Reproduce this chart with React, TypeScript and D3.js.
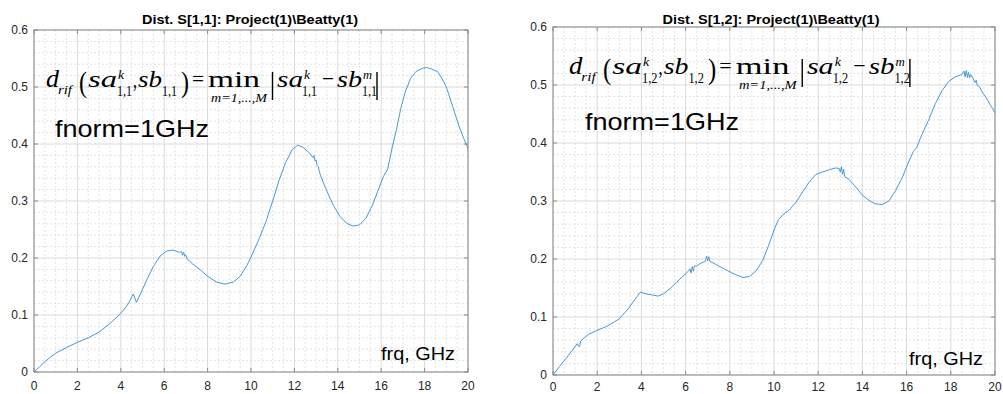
import React from 'react';
import * as d3 from 'd3';

// ---------- data ----------
const freqS11 = [0, 0.25, 0.5, 0.75, 1.0, 1.5, 2.0, 2.5, 3.0, 3.5, 4.0, 4.3, 4.58, 4.72, 5.0, 5.2, 5.5, 5.8, 6.1, 6.4, 6.7, 6.8, 6.85, 6.9, 6.95, 7.0, 7.05, 7.3, 7.7, 8.0, 8.4, 8.8, 9.2, 9.5, 9.8, 10.1, 10.4, 10.7, 11.0, 11.3, 11.6, 11.9, 12.15, 12.4, 12.7, 12.85, 12.9, 12.95, 13.0, 13.05, 13.1, 13.15, 13.2, 13.5, 13.8, 14.1, 14.4, 14.7, 15.0, 15.3, 15.6, 15.9, 16.1, 16.3, 16.5, 16.7, 16.9, 17.1, 17.35, 17.6, 17.9, 18.1, 18.3, 18.6, 18.8, 19.0, 19.3, 19.6, 19.8, 20.0];
const distS11 = [0, 0.009, 0.018, 0.026, 0.033, 0.043, 0.052, 0.06, 0.07, 0.085, 0.103, 0.117, 0.137, 0.122, 0.145, 0.162, 0.185, 0.203, 0.212, 0.214, 0.21, 0.211, 0.205, 0.21, 0.203, 0.205, 0.199, 0.19, 0.178, 0.168, 0.158, 0.154, 0.158, 0.168, 0.186, 0.21, 0.236, 0.265, 0.3, 0.337, 0.368, 0.39, 0.398, 0.394, 0.384, 0.376, 0.38, 0.37, 0.372, 0.362, 0.36, 0.352, 0.345, 0.317, 0.292, 0.273, 0.261, 0.256, 0.258, 0.27, 0.293, 0.323, 0.343, 0.356, 0.393, 0.425, 0.462, 0.49, 0.515, 0.527, 0.533, 0.534, 0.532, 0.527, 0.515, 0.5, 0.465, 0.43, 0.41, 0.392];

const freqS12 = [0, 0.3, 0.6, 0.9, 1.1, 1.15, 1.2, 1.25, 1.35, 1.6, 2.0, 2.5, 3.0, 3.4, 3.7, 3.95, 4.2, 4.5, 4.75, 5.0, 5.3, 5.6, 5.9, 6.1, 6.2, 6.25, 6.3, 6.35, 6.4, 6.5, 6.7, 6.9, 6.95, 7.0, 7.05, 7.1, 7.4, 7.8, 8.2, 8.6, 8.9, 9.2, 9.5, 9.8, 10.0, 10.2, 10.4, 10.7, 11.0, 11.3, 11.6, 11.9, 12.2, 12.5, 12.8, 12.95, 13.0, 13.05, 13.1, 13.15, 13.2, 13.4, 13.7, 14.0, 14.3, 14.6, 14.9, 15.2, 15.5, 15.8, 16.1, 16.3, 16.45, 16.7, 17.0, 17.3, 17.6, 17.9, 18.2, 18.5, 18.6, 18.65, 18.7, 18.75, 18.8, 18.85, 18.9, 19.0, 19.1, 19.15, 19.2, 19.3, 19.4, 19.6, 19.8, 20.0];
const distS12 = [0, 0.015, 0.029, 0.044, 0.054, 0.05, 0.049, 0.058, 0.062, 0.07, 0.077, 0.085, 0.097, 0.114, 0.13, 0.143, 0.14, 0.138, 0.136, 0.14, 0.149, 0.16, 0.171, 0.178, 0.183, 0.176, 0.187, 0.179, 0.188, 0.188, 0.193, 0.196, 0.205, 0.197, 0.204, 0.196, 0.19, 0.182, 0.174, 0.168, 0.17, 0.18, 0.198, 0.228, 0.25, 0.268, 0.276, 0.285, 0.298, 0.316, 0.333, 0.346, 0.35, 0.354, 0.357, 0.356, 0.35, 0.359, 0.346, 0.355, 0.342, 0.337, 0.324, 0.31, 0.301, 0.295, 0.294, 0.3, 0.318, 0.34, 0.368, 0.385, 0.392, 0.415, 0.44, 0.468, 0.49, 0.506, 0.514, 0.518, 0.524, 0.514, 0.525, 0.513, 0.522, 0.512, 0.518, 0.512, 0.504, 0.508, 0.499, 0.497, 0.489, 0.478, 0.465, 0.452];

const xTicks = [0, 2, 4, 6, 8, 10, 12, 14, 16, 18, 20];
const yTicks = [0, 0.1, 0.2, 0.3, 0.4, 0.5, 0.6];
const xTickLabels = xTicks.map(String);
const yTickLabels = yTicks.map(v => (v === 0 ? '0' : v.toFixed(1)));
const titles = ['Dist. S[1,1]: Project(1)\\Beatty(1)', 'Dist. S[1,2]: Project(1)\\Beatty(1)'];
const subscripts = ['1,1', '1,2'];
const noteText = 'fnorm=1GHz';
const axisText = 'frq, GHz';

const SANS = "'Liberation Sans', Arial, Helvetica, sans-serif";
const SERIF = "'Liberation Serif', 'Times New Roman', serif";

type FormulaProps = { x: number; y: number; sub: string; k: number };

function Formula({ x, y, sub, k }: FormulaProps) {
  const t = (dx: number, dy: number, txt: string, size: number, italic: boolean, w?: number) => (
    <text
      x={x + dx * k}
      y={y + dy}
      fontFamily={SERIF}
      fontSize={size}
      fontStyle={italic ? 'italic' : 'normal'}
      fill="#000"
      textLength={w ? w * k : undefined}
      lengthAdjust={w ? 'spacingAndGlyphs' : undefined}
    >
      {txt}
    </text>
  );
  const bar = (dx: number) => (
    <line x1={x + dx * k} x2={x + dx * k} y1={y - 15} y2={y + 13} stroke="#000" strokeWidth={1.4} />
  );
  return (
    <g>
      {t(-1, 0, 'd', 25, true, 13)}
      {t(11, 7, 'rif', 13, true, 14)}
      {t(32, 5, '(', 29, false, 8)}
      {t(41, 0, 'sa', 24, true, 29)}
      {t(71, -8, 'k', 13, true, 6)}
      {t(70, 9, sub, 14, false, 15)}
      {t(86, 0, ',', 24, false, 4)}
      {t(91, 0, 'sb', 24, true, 24)}
      {t(115, 9, sub, 14, false, 15)}
      {t(134, 5, ')', 29, false, 8)}
      {t(145, -1, '=', 22, false, 12)}
      {t(161, 0, 'min', 24, false, 52)}
      {t(164, 15, 'm=1,...,M', 12, true, 56)}
      {bar(225.5)}
      {t(230, 0, 'sa', 24, true, 26)}
      {t(257, -8, 'k', 13, true, 6)}
      {t(255, 9, sub, 14, false, 15)}
      {t(275, -1, '\u2212', 22, false, 12)}
      {t(290, 0, 'sb', 24, true, 25)}
      {t(316, -8, 'm', 13, true, 9)}
      {t(315, 9, sub, 14, false, 15)}
      {bar(330)}
    </g>
  );
}

type PanelProps = {
  x0: number; x1: number; y0: number; y1: number;
  freq: number[]; dist: number[];
  title: string; titleX: number; titleW: number;
  sub: string; fx: number; fy: number; fk: number;
  nx: number; ny: number; qx: number; qy: number;
};

function Panel(p: PanelProps) {
  const xs = d3.scaleLinear().domain([0, 20]).range([p.x0, p.x1]);
  const ys = d3.scaleLinear().domain([0, 0.6]).range([p.y0, p.y1]);
  const minorX = d3.range(0, 20.0001, 0.5).filter(v => Math.abs(v / 2 - Math.round(v / 2)) > 1e-6);
  const minorY = d3.range(0, 0.6001, 0.02).filter(v => Math.abs(v * 10 - Math.round(v * 10)) > 1e-6);
  const pts = p.freq.map((f, i) => [f, p.dist[i]] as [number, number]);
  const line = d3.line<[number, number]>().x(d => xs(d[0])).y(d => ys(d[1]));
  const top = ys(0.6), bot = ys(0), lft = xs(0), rgt = xs(20);
  const tl = 4;
  const labelY = Math.min(bot + 18, 391);
  return (
    <g>
      {minorX.map(v => (
        <line key={'mx' + v} x1={xs(v)} x2={xs(v)} y1={top} y2={bot} stroke="#e3e3e3" strokeWidth={1} strokeDasharray="2,2" />
      ))}
      {minorY.map(v => (
        <line key={'my' + v} x1={lft} x2={rgt} y1={ys(v)} y2={ys(v)} stroke="#e3e3e3" strokeWidth={1} strokeDasharray="2,2" />
      ))}
      {xTicks.map(v => (
        <line key={'gx' + v} x1={xs(v)} x2={xs(v)} y1={top} y2={bot} stroke="#dadada" strokeWidth={1} />
      ))}
      {yTicks.map(v => (
        <line key={'gy' + v} x1={lft} x2={rgt} y1={ys(v)} y2={ys(v)} stroke="#dadada" strokeWidth={1} />
      ))}
      <path d={line(pts) || ''} fill="none" stroke="#4a98d3" strokeWidth={1} />
      <rect x={lft} y={top} width={rgt - lft} height={bot - top} fill="none" stroke="#8a8a8a" strokeWidth={1} />
      {xTicks.map(v => (
        <g key={'tx' + v}>
          <line x1={xs(v)} x2={xs(v)} y1={bot} y2={bot - tl} stroke="#8a8a8a" />
          <line x1={xs(v)} x2={xs(v)} y1={top} y2={top + tl} stroke="#8a8a8a" />
        </g>
      ))}
      {yTicks.map(v => (
        <g key={'ty' + v}>
          <line x1={lft} x2={lft + tl} y1={ys(v)} y2={ys(v)} stroke="#8a8a8a" />
          <line x1={rgt} x2={rgt - tl} y1={ys(v)} y2={ys(v)} stroke="#8a8a8a" />
        </g>
      ))}
      {xTicks.map((v, i) => (
        <text key={'lx' + v} x={xs(v)} y={labelY} textAnchor="middle" fontFamily={SANS} fontSize={12} fill="#262626">
          {xTickLabels[i]}
        </text>
      ))}
      {yTicks.map((v, i) => (
        <text key={'ly' + v} x={lft - 6} y={ys(v) + 4} textAnchor="end" fontFamily={SANS} fontSize={12} fill="#262626">
          {yTickLabels[i]}
        </text>
      ))}
      <text x={p.titleX} y={24} textAnchor="middle" fontFamily={SANS} fontWeight="bold" fontSize={13} fill="#000"
        textLength={p.titleW} lengthAdjust="spacingAndGlyphs">
        {p.title}
      </text>
      <Formula x={p.fx} y={p.fy} sub={p.sub} k={p.fk} />
      <text x={p.nx} y={p.ny} fontFamily={SANS} fontSize={24} fill="#000" textLength={154} lengthAdjust="spacingAndGlyphs">
        {noteText}
      </text>
      <text x={p.qx} y={p.qy} fontFamily={SANS} fontSize={19} fill="#000" textLength={74} lengthAdjust="spacingAndGlyphs">
        {axisText}
      </text>
    </g>
  );
}

export default function App() {
  return (
    <svg width={1003} height={394} style={{ position: 'absolute', left: 0, top: 0, background: '#fff' }}>
      <rect x={0} y={0} width={1003} height={394} fill="#fff" />
      <Panel x0={34} x1={468} y0={372} y1={30} freq={freqS11} dist={distS11}
        title={titles[0]} titleX={250} titleW={216} sub={subscripts[0]} fx={47} fy={87} fk={1}
        nx={55} ny={137} qx={381} qy={360} />
      <Panel x0={553} x1={995} y0={375} y1={27} freq={freqS12} dist={distS12}
        title={titles[1]} titleX={771} titleW={217} sub={subscripts[1]} fx={570} fy={74} fk={1.03}
        nx={585} ny={130} qx={909} qy={365} />
    </svg>
  );
}
